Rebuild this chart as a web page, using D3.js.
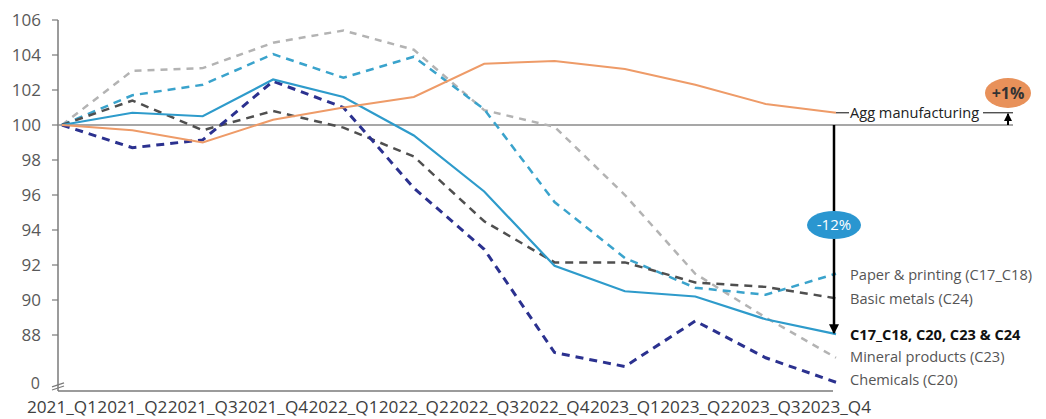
<!DOCTYPE html>
<meta charset="utf-8">
<script src="https://d3js.org/d3.v7.min.js"></script>
<style>
  body { margin: 0; background: #fff; }
  text { font-family: "Open Sans", "Noto Sans", sans-serif; }
</style>
<div id="vis"></div>
<script>

// quarters on the x axis
var quarters = ["2021_Q1", "2021_Q2", "2021_Q3", "2021_Q4", "2022_Q1", "2022_Q2",
                "2022_Q3", "2022_Q4", "2023_Q1", "2023_Q2", "2023_Q3", "2023_Q4"];

// index values (2021_Q1 = 100)
var aggManufacturing = [100, 99.7, 99.0, 100.3, 101.0, 101.6, 103.5, 103.65, 103.2, 102.3, 101.2, 100.7];
var paperPrinting    = [100, 101.7, 102.3, 104.05, 102.7, 103.9, 100.9, 95.6, 92.4, 90.7, 90.3, 91.5];
var basicMetals      = [100, 101.4, 99.7, 100.8, 99.85, 98.2, 94.5, 92.15, 92.15, 91.0, 90.75, 90.1];
var c17to24          = [100, 100.7, 100.5, 102.6, 101.6, 99.4, 96.2, 91.95, 90.5, 90.2, 88.9, 88.05];
var mineralProducts  = [100, 103.1, 103.25, 104.7, 105.4, 104.3, 100.85, 99.9, 96.0, 91.5, 89.0, 86.7];
var chemicals        = [100, 98.7, 99.15, 102.5, 101.0, 96.4, 92.9, 87.0, 86.2, 88.8, 86.7, 85.3];

// y ticks (axis is broken: bottom tick is shown as 0)
var yTicks = [88, 90, 92, 94, 96, 98, 100, 102, 104, 106];
var yBottom = 84.8;

var width = 1046, height = 419;

var svg = d3.select("#vis")
    .append("svg")
    .attr("width", width)
    .attr("height", height);

var x = d3.scalePoint()
    .domain(quarters)
    .range([62, 836]);

var y = d3.scaleLinear()
    .domain([yBottom, 106])
    .range([391, 20]);

var axisX = 58;

// y axis
svg.append("line")
    .attr("x1", axisX).attr("x2", axisX)
    .attr("y1", y(106)).attr("y2", y(yBottom))
    .style("stroke", "#7a7a7a").style("stroke-width", 1.5);

svg.selectAll(".ytick")
    .data(yTicks)
    .enter()
    .append("line")
    .attr("x1", axisX - 6).attr("x2", axisX)
    .attr("y1", function (d) { return y(d) })
    .attr("y2", function (d) { return y(d) })
    .style("stroke", "#7a7a7a").style("stroke-width", 1.2);

svg.selectAll(".ylab")
    .data(yTicks)
    .enter()
    .append("text")
    .attr("x", 41)
    .attr("y", function (d) { return y(d) })
    .attr("dy", "0.35em")
    .attr("text-anchor", "end")
    .style("font-size", "17px")
    .style("fill", "#595959")
    .text(function (d) { return d });

svg.append("text")
    .attr("x", 40).attr("y", 389)
    .attr("text-anchor", "end")
    .style("font-size", "16px")
    .style("fill", "#595959")
    .text("0");

// axis break marks
[0, 4].forEach(function (o) {
    svg.append("line")
        .attr("x1", 52).attr("y1", y(yBottom) - 1 - o * 0.8)
        .attr("x2", 64).attr("y2", y(yBottom) - 5 - o * 0.8)
        .style("stroke", "#7a7a7a").style("stroke-width", 1.3);
});

// x axis
svg.append("line")
    .attr("x1", axisX).attr("x2", x(quarters[quarters.length - 1]) - 3)
    .attr("y1", y(yBottom)).attr("y2", y(yBottom))
    .style("stroke", "#7a7a7a").style("stroke-width", 1.5);

svg.selectAll(".xlab")
    .data(quarters)
    .enter()
    .append("text")
    .attr("x", function (d) { return x(d) })
    .attr("y", 413)
    .attr("text-anchor", "middle")
    .style("font-size", "17.2px")
    .style("fill", "#404040")
    .text(function (d) { return d });

// 100 reference line
svg.append("line")
    .attr("x1", axisX).attr("x2", 1013)
    .attr("y1", y(100)).attr("y2", y(100))
    .style("stroke", "#8a8a8a").style("stroke-width", 1.5);

// series
var series = [
    { values: mineralProducts, color: "#b3b3b3", dash: "7,6", w: 2.5 },
    { values: paperPrinting, color: "#3aa3cc", dash: "8,6", w: 2.5 },
    { values: basicMetals, color: "#4f4f4f", dash: "8,6", w: 2.5 },
    { values: chemicals, color: "#2b318f", dash: "8,6", w: 3 },
    { values: c17to24, color: "#2e9bcb", dash: null, w: 2.2 },
    { values: aggManufacturing, color: "#ee9b68", dash: null, w: 2 }
];

var line = d3.line()
    .x(function (d, i) { return x(quarters[i]) })
    .y(function (d) { return y(d) });

series.forEach(function (s) {
    svg.append("path")
        .datum(s.values)
        .attr("d", line)
        .style("fill", "none")
        .style("stroke", s.color)
        .style("stroke-width", s.w)
        .style("stroke-dasharray", s.dash);
});

// arrow markers
var defs = svg.append("defs");
defs.append("marker")
    .attr("id", "arrow")
    .attr("viewBox", "0 0 10 10")
    .attr("refX", 9).attr("refY", 5)
    .attr("markerWidth", 4).attr("markerHeight", 4)
    .attr("orient", "auto")
    .append("path")
    .attr("d", "M0,0L10,5L0,10z")
    .style("fill", "#000");

var lastQ = quarters[quarters.length - 1];
var endX = x(lastQ) - 2;

// -12% arrow
svg.append("line")
    .attr("x1", endX).attr("x2", endX)
    .attr("y1", y(100)).attr("y2", y(c17to24[c17to24.length - 1]) - 1)
    .style("stroke", "#000").style("stroke-width", 2.5)
    .attr("marker-end", "url(#arrow)");

svg.append("ellipse")
    .attr("cx", endX).attr("cy", 225)
    .attr("rx", 27).attr("ry", 14)
    .style("fill", "#2a96d0");
svg.append("text")
    .attr("x", endX).attr("y", 225)
    .attr("dy", "0.35em")
    .attr("text-anchor", "middle")
    .style("font-size", "15px")
    .style("fill", "#fff")
    .text("-12%");

// Agg manufacturing label with leader lines
var aggY = y(aggManufacturing[aggManufacturing.length - 1]);
svg.append("line")
    .attr("x1", x(lastQ)).attr("x2", 849)
    .attr("y1", aggY).attr("y2", aggY)
    .style("stroke", "#333").style("stroke-width", 1.2);
svg.append("line")
    .attr("x1", 983).attr("x2", 1013)
    .attr("y1", aggY).attr("y2", aggY)
    .style("stroke", "#333").style("stroke-width", 1.2);
svg.append("text")
    .attr("x", 850).attr("y", aggY)
    .attr("dy", "0.35em")
    .style("font-size", "14.6px")
    .style("fill", "#222")
    .text("Agg manufacturing");

// +1% arrow
svg.append("line")
    .attr("x1", 1008).attr("x2", 1008)
    .attr("y1", y(100)).attr("y2", aggY + 1)
    .style("stroke", "#000").style("stroke-width", 2)
    .attr("marker-end", "url(#arrow)");
svg.append("ellipse")
    .attr("cx", 1008).attr("cy", 93)
    .attr("rx", 23).attr("ry", 15)
    .style("fill", "#e8915a");
svg.append("text")
    .attr("x", 1008).attr("y", 93)
    .attr("dy", "0.35em")
    .attr("text-anchor", "middle")
    .style("font-size", "16px")
    .style("font-weight", "bold")
    .style("fill", "#333")
    .text("+1%");

// right hand labels
var labels = [
    { text: "Paper & printing (C17_C18)", y: 275, bold: false },
    { text: "Basic metals (C24)", y: 299, bold: false },
    { text: "C17_C18, C20, C23 & C24", y: 335, bold: true },
    { text: "Mineral products (C23)", y: 357, bold: false },
    { text: "Chemicals (C20)", y: 380, bold: false }
];

svg.selectAll(".rlab")
    .data(labels)
    .enter()
    .append("text")
    .attr("x", 850)
    .attr("y", function (d) { return d.y })
    .attr("dy", "0.35em")
    .style("font-size", "14.6px")
    .style("font-weight", function (d) { return d.bold ? "bold" : "normal" })
    .style("fill", function (d) { return d.bold ? "#111" : "#555" })
    .text(function (d) { return d.text });

</script>
